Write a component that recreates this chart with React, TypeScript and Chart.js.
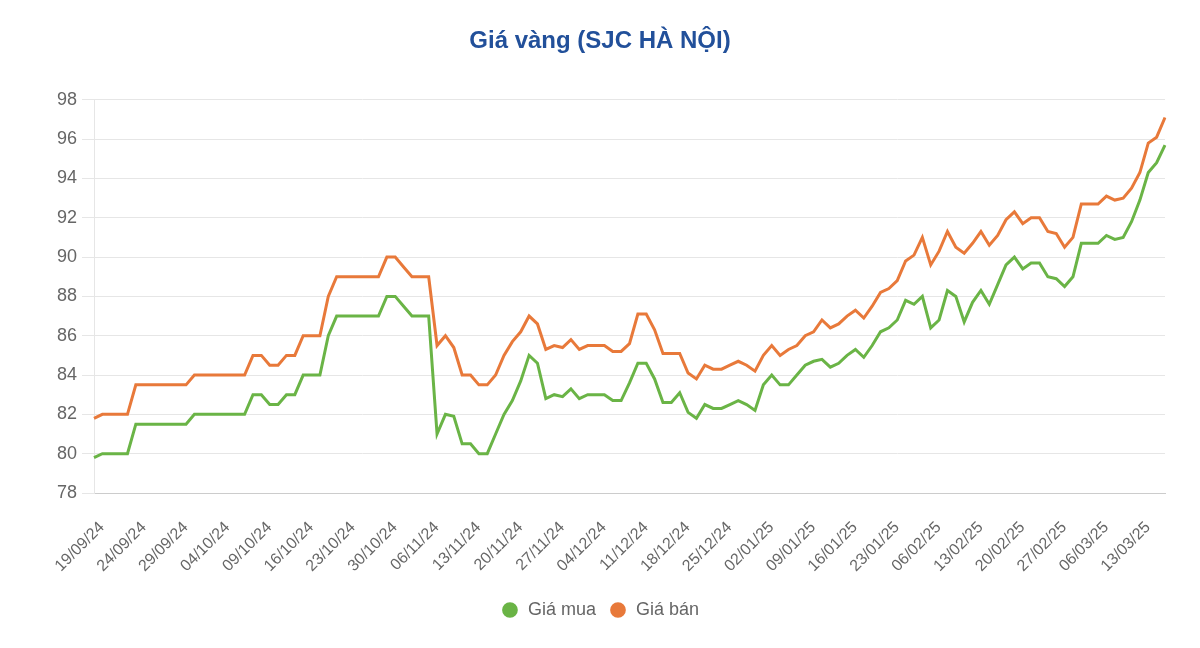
import { useEffect, useRef } from "react";
import { Chart, registerables } from "chart.js";

Chart.register(...registerables);

const dates = [
  "19/09/24", "20/09/24", "21/09/24", "22/09/24", "23/09/24", "24/09/24", "25/09/24", "26/09/24", "27/09/24", "28/09/24",
  "29/09/24", "30/09/24", "01/10/24", "02/10/24", "03/10/24", "04/10/24", "05/10/24", "06/10/24", "07/10/24", "08/10/24",
  "09/10/24", "10/10/24", "11/10/24", "14/10/24", "15/10/24", "16/10/24", "17/10/24", "18/10/24", "21/10/24", "22/10/24",
  "23/10/24", "24/10/24", "25/10/24", "28/10/24", "29/10/24", "30/10/24", "31/10/24", "01/11/24", "04/11/24", "05/11/24",
  "06/11/24", "07/11/24", "08/11/24", "11/11/24", "12/11/24", "13/11/24", "14/11/24", "15/11/24", "18/11/24", "19/11/24",
  "20/11/24", "21/11/24", "22/11/24", "25/11/24", "26/11/24", "27/11/24", "28/11/24", "29/11/24", "02/12/24", "03/12/24",
  "04/12/24", "05/12/24", "06/12/24", "09/12/24", "10/12/24", "11/12/24", "12/12/24", "13/12/24", "16/12/24", "17/12/24",
  "18/12/24", "19/12/24", "20/12/24", "23/12/24", "24/12/24", "25/12/24", "26/12/24", "27/12/24", "30/12/24", "31/12/24",
  "02/01/25", "03/01/25", "06/01/25", "07/01/25", "08/01/25", "09/01/25", "10/01/25", "13/01/25", "14/01/25", "15/01/25",
  "16/01/25", "17/01/25", "20/01/25", "21/01/25", "22/01/25", "23/01/25", "24/01/25", "03/02/25", "04/02/25", "05/02/25",
  "06/02/25", "07/02/25", "10/02/25", "11/02/25", "12/02/25", "13/02/25", "14/02/25", "17/02/25", "18/02/25", "19/02/25",
  "20/02/25", "21/02/25", "24/02/25", "25/02/25", "26/02/25", "27/02/25", "28/02/25", "03/03/25", "04/03/25", "05/03/25",
  "06/03/25", "07/03/25", "10/03/25", "11/03/25", "12/03/25", "13/03/25", "14/03/25", "17/03/25", "18/03/25",
];

const buyPrices = [
  79.8, 80, 80, 80, 80, 81.5, 81.5, 81.5, 81.5, 81.5,
  81.5, 81.5, 82, 82, 82, 82, 82, 82, 82, 83,
  83, 82.5, 82.5, 83, 83, 84, 84, 84, 86, 87,
  87, 87, 87, 87, 87, 88, 88, 87.5, 87, 87,
  87, 81, 82, 81.9, 80.5, 80.5, 80, 80, 81, 82,
  82.7, 83.7, 85, 84.6, 82.8, 83, 82.9, 83.3, 82.8, 83,
  83, 83, 82.7, 82.7, 83.6, 84.6, 84.6, 83.8, 82.6, 82.6,
  83.1, 82.1, 81.8, 82.5, 82.3, 82.3, 82.5, 82.7, 82.5, 82.2,
  83.5, 84, 83.5, 83.5, 84, 84.5, 84.7, 84.8, 84.4, 84.6,
  85, 85.3, 84.9, 85.5, 86.2, 86.4, 86.8, 87.8, 87.6, 88,
  86.4, 86.8, 88.3, 88, 86.7, 87.7, 88.3, 87.6, 88.6, 89.6,
  90, 89.4, 89.7, 89.7, 89, 88.9, 88.5, 89, 90.7, 90.7,
  90.7, 91.1, 90.9, 91, 91.8, 92.9, 94.3, 94.8, 95.7,
];

const sellPrices = [
  81.8, 82, 82, 82, 82, 83.5, 83.5, 83.5, 83.5, 83.5,
  83.5, 83.5, 84, 84, 84, 84, 84, 84, 84, 85,
  85, 84.5, 84.5, 85, 85, 86, 86, 86, 88, 89,
  89, 89, 89, 89, 89, 90, 90, 89.5, 89, 89,
  89, 85.5, 86, 85.4, 84, 84, 83.5, 83.5, 84, 85,
  85.7, 86.2, 87, 86.6, 85.3, 85.5, 85.4, 85.8, 85.3, 85.5,
  85.5, 85.5, 85.2, 85.2, 85.6, 87.1, 87.1, 86.3, 85.1, 85.1,
  85.1, 84.1, 83.8, 84.5, 84.3, 84.3, 84.5, 84.7, 84.5, 84.2,
  85, 85.5, 85, 85.3, 85.5, 86, 86.2, 86.8, 86.4, 86.6,
  87, 87.3, 86.9, 87.5, 88.2, 88.4, 88.8, 89.8, 90.1, 91,
  89.6, 90.3, 91.3, 90.5, 90.2, 90.7, 91.3, 90.6, 91.1, 91.9,
  92.3, 91.7, 92, 92, 91.3, 91.2, 90.5, 91, 92.7, 92.7,
  92.7, 93.1, 92.9, 93, 93.5, 94.3, 95.8, 96.1, 97.1,
];

const seriesNames = ["Giá mua", "Giá bán"];
const chartTitle = "Giá vàng (SJC HÀ NỘI)";
const yMin = 78;
const yMax = 98;
const yStep = 2;
const labelEvery = 5;

const GREEN = "#6ab446";
const ORANGE = "#e8793a";
const FONT = "'Liberation Sans', Arial, Helvetica, sans-serif";

export default function App() {
  const ref = useRef<HTMLCanvasElement>(null);

  useEffect(() => {
    if (!ref.current) return;
    Chart.defaults.font.family = FONT;
    const chart = new Chart(ref.current, {
      type: "line",
      data: {
        labels: dates,
        datasets: [
          {
            label: seriesNames[0],
            data: buyPrices,
            borderColor: GREEN,
            backgroundColor: GREEN,
            borderWidth: 3,
            pointRadius: 0,
            tension: 0,
          },
          {
            label: seriesNames[1],
            data: sellPrices,
            borderColor: ORANGE,
            backgroundColor: ORANGE,
            borderWidth: 3,
            pointRadius: 0,
            tension: 0,
          },
        ],
      },
      options: {
        animation: false,
        responsive: true,
        maintainAspectRatio: false,
        layout: { padding: { left: 0, right: 0, top: 0, bottom: 19 } },
        plugins: {
          title: {
            display: true,
            text: chartTitle,
            color: "#22509a",
            font: { family: FONT, size: 24, weight: "bold" },
            padding: { top: 27, bottom: 44 },
          },
          legend: {
            position: "bottom",
            labels: {
              usePointStyle: true,
              pointStyle: "circle",
              boxWidth: 18,
              boxHeight: 9,
              padding: 13,
              color: "#666",
              font: { family: FONT, size: 18 },
            },
          },
          tooltip: { enabled: false },
        },
        scales: {
          x: {
            grid: { display: false },
            border: { color: "#cccccc" },
            ticks: {
              autoSkip: false,
              maxRotation: 45,
              minRotation: 45,
              padding: 17,
              labelOffset: 8,
              color: "#666",
              font: { family: FONT, size: 16 },
              callback: (_v: any, i: number) => (i % labelEvery === 0 ? dates[i] : null),
            },
            afterFit: (s: any) => {
              s.height = 95;
            },
          },
          y: {
            min: yMin,
            max: yMax,
            ticks: {
              stepSize: yStep,
              color: "#666",
              font: { family: FONT, size: 18 },
              padding: 5,
            },
            grid: { color: "#e6e6e6", tickLength: 12 },
            border: { color: "#e6e6e6" },
            afterFit: (s: any) => {
              s.width = 94;
            },
          },
          spacer: {
            position: "right",
            display: true,
            grid: { display: false, drawTicks: false },
            border: { display: false },
            ticks: { display: false },
            afterFit: (s: any) => {
              s.width = 35;
            },
          },
        },
      },
    });
    return () => chart.destroy();
  }, []);

  return (
    <div style={{ position: "fixed", left: 0, top: 0, width: 1200, height: 648 }}>
      <canvas ref={ref} />
    </div>
  );
}
